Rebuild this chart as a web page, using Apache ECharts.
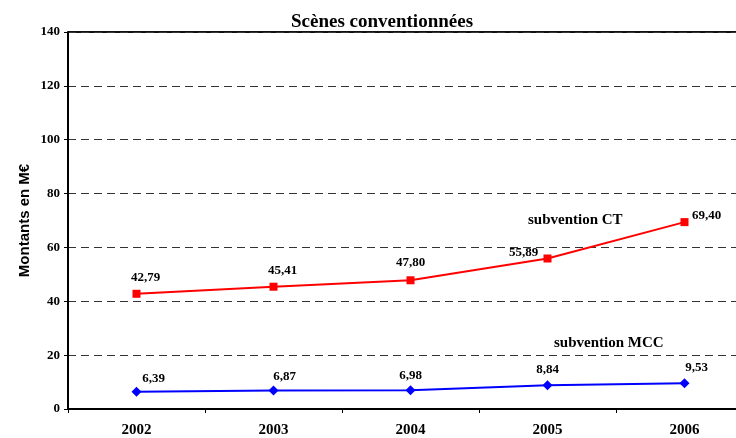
<!DOCTYPE html>
<html><head><meta charset="utf-8">
<script src="https://cdn.jsdelivr.net/npm/echarts@6/dist/echarts.min.js"></script>
<style>html,body{margin:0;padding:0;background:#fff}#c{width:736px;height:438px}</style>
</head><body><div id="c"></div>
<script>
const categories = ['2002','2003','2004','2005','2006'];
const ctValues = [42.79, 45.41, 47.80, 55.89, 69.40];
const mccValues = [6.39, 6.87, 6.98, 8.84, 9.53];
const yTicks = [0, 20, 40, 60, 80, 100, 120, 140];
const ctLabelOffsets = [[9,-1],[9,-1],[0,-2],[-24,10],[22,9]];
const mccLabelOffsets = [[17,3],[11,3],[0,2],[0,1],[12,1]];

const serif = '"Liberation Serif", "DejaVu Serif", serif';
const fmt = v => v.toFixed(2).replace('.', ',');

const chart = echarts.init(document.getElementById('c'));
chart.setOption({
  animation: false,
  backgroundColor: '#fff',
  title: {
    text: 'Scènes conventionnées', left: 377, top: 8, textAlign: 'center',
    textStyle: { fontFamily: serif, fontWeight: 'bold', fontSize: 19, color: '#000' }
  },
  grid: { left: 68, width: 685, top: 32, bottom: 29, containLabel: false, outerBoundsMode: 'none' },
  xAxis: {
    type: 'category', data: categories, boundaryGap: true,
    axisLine: { lineStyle: { color: '#000', width: 2 } },
    axisTick: { show: true, length: 4, lineStyle: { color: '#000', width: 1 } },
    axisLabel: { fontFamily: serif, fontWeight: 'bold', fontSize: 15, color: '#000', margin: 14 }
  },
  yAxis: {
    type: 'value', min: yTicks[0], max: yTicks[yTicks.length - 1], interval: 20,
    name: 'Montants en M€', nameLocation: 'middle', nameGap: 36, nameRotate: 90, nameMoveOverlap: false,
    nameTextStyle: { fontFamily: '"Liberation Sans", Arial, sans-serif', fontWeight: 'bold', fontSize: 15, color: '#000' },
    axisLine: { show: true, lineStyle: { color: '#000', width: 2 } },
    axisTick: { show: true, length: 4, lineStyle: { color: '#000', width: 1 } },
    axisLabel: { fontFamily: serif, fontWeight: 'bold', fontSize: 13, color: '#000', margin: 8 },
    splitLine: { show: true, lineStyle: { color: '#333', width: 1, type: [8, 5] } }
  },
  series: [
    {
      name: 'subvention CT', type: 'line', data: ctValues.map((v, i) => ({
        value: v, label: { offset: ctLabelOffsets[i] }
      })),
      symbol: 'rect', symbolSize: 8,
      lineStyle: { color: '#ff0000', width: 2 }, itemStyle: { color: '#ff0000' },
      label: { show: true, position: 'top', formatter: p => fmt(p.value),
        fontFamily: serif, fontWeight: 'bold', fontSize: 13, color: '#000' }
    },
    {
      name: 'subvention MCC', type: 'line', data: mccValues.map((v, i) => ({
        value: v, label: { offset: mccLabelOffsets[i] }
      })),
      symbol: 'diamond', symbolSize: 10,
      lineStyle: { color: '#0000ff', width: 2 }, itemStyle: { color: '#0000ff' },
      label: { show: true, position: 'top', formatter: p => fmt(p.value),
        fontFamily: serif, fontWeight: 'bold', fontSize: 13, color: '#000' }
    }
  ],
  graphic: [
    { type: 'line', shape: { x1: 68, y1: 32, x2: 736, y2: 32 }, style: { stroke: '#111', lineWidth: 2 } },
    { type: 'text', left: 528, top: 213, style: { text: 'subvention CT', font: 'bold 15px ' + serif, fill: '#000' } },
    { type: 'text', left: 554, top: 336, style: { text: 'subvention MCC', font: 'bold 15px ' + serif, fill: '#000' } }
  ]
});
</script></body></html>
